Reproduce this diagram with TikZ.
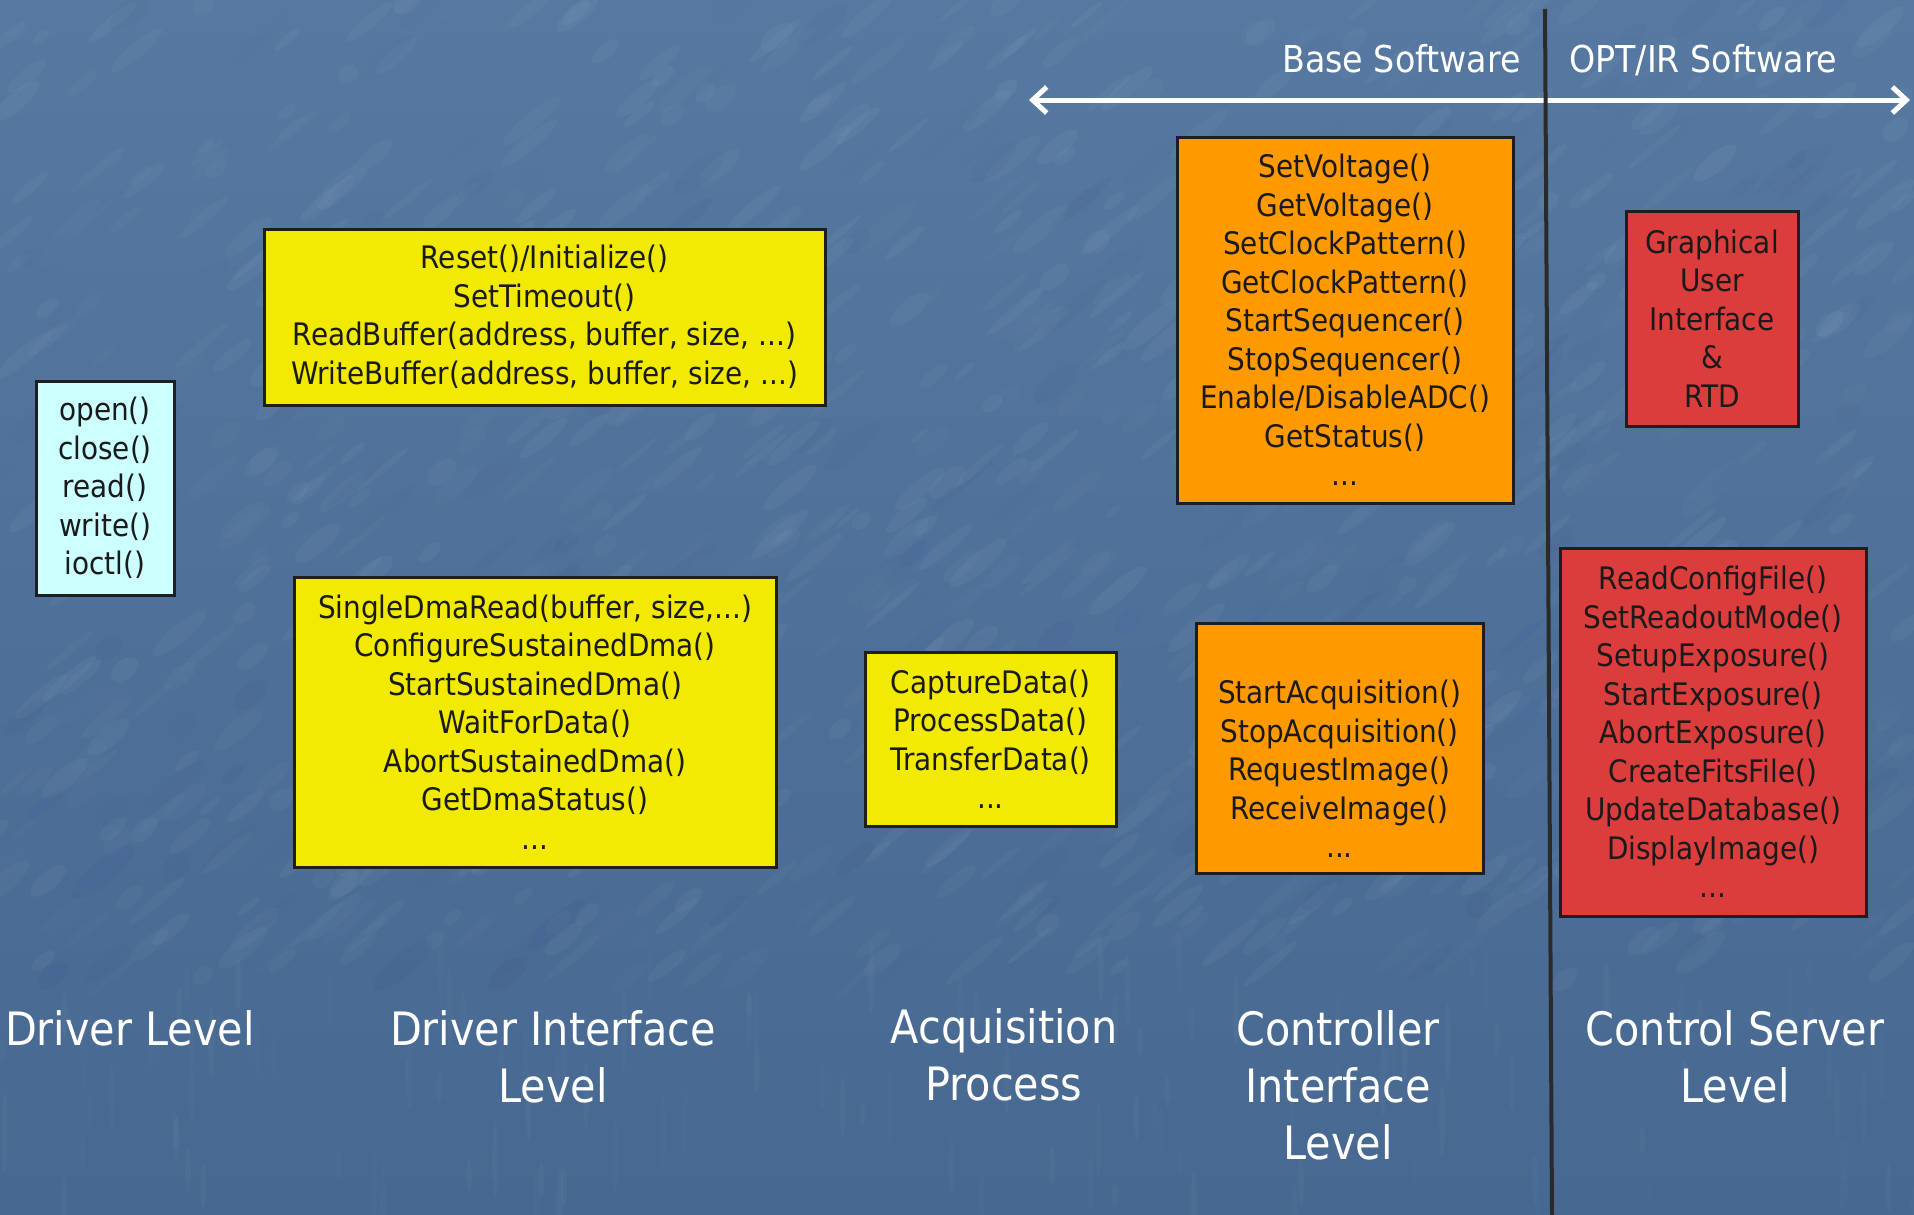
\documentclass[tikz,border=0pt]{standalone}
\usepackage{fontspec}
\newfontfamily\tah{DejaVu Sans}[FakeStretch=0.9]
\usetikzlibrary{arrows.meta}

\definecolor{bgtop}{HTML}{5779A1}
\definecolor{bgmid}{HTML}{56789F}
\definecolor{bgbot}{HTML}{476891}
\definecolor{boxline}{HTML}{1E1E1E}
\definecolor{inktext}{HTML}{1A1A1A}
\definecolor{drvcyan}{HTML}{CCFFFF}
\definecolor{ifyellow}{HTML}{F2EA00}
\definecolor{ctlorange}{HTML}{FF9900}
\definecolor{srvred}{HTML}{DB3D3D}
\definecolor{rulegray}{HTML}{2A2A2A}

\tikzset{
  fnbox/.style={draw=boxline, line width=3pt, align=center, inner sep=0pt,
    text=inktext, font=\tah\fontsize{31}{38.5}\selectfont},
  hdr/.style={text=white, inner sep=0pt, font=\tah\fontsize{37}{44}\selectfont},
  levellabel/.style={text=white, inner sep=0pt, align=center, anchor=base,
    font=\tah\fontsize{46}{57}\selectfont},
  spanarrow/.style={white, line width=5pt,
    {Straight Barb[length=14pt,width=26pt]}-{Straight Barb[length=14pt,width=26pt]}},
  divider/.style={rulegray, line width=4pt},
}

\begin{document}
\begin{tikzpicture}[x=1pt,y=-1pt]
\useasboundingbox (0,0) rectangle (1914,1215);

% textured blue backdrop
\shade[top color=bgtop, middle color=bgmid, bottom color=bgbot] (0,0) rectangle (1914,1215);
\pgfmathsetseed{4217}
\foreach \i in {1,...,900}{
  \pgfmathsetmacro\sx{rnd*1914}
  \pgfmathsetmacro\sy{rnd*980}
  \pgfmathsetmacro\sl{10+rnd*28}
  \pgfmathsetmacro\sw{3+rnd*7}
  \pgfmathsetmacro\so{0.012+rnd*0.03}
  \fill[white, opacity=\so, rotate around={40:(\sx,\sy)}] (\sx,\sy) ellipse (\sl pt and \sw pt);
}
\foreach \i in {1,...,200}{
  \pgfmathsetmacro\sx{rnd*1914}
  \pgfmathsetmacro\sy{rnd*980}
  \pgfmathsetmacro\sl{12+rnd*30}
  \pgfmathsetmacro\sw{4+rnd*8}
  \pgfmathsetmacro\so{0.008+rnd*0.018}
  \fill[black!60!blue, opacity=\so, rotate around={40:(\sx,\sy)}] (\sx,\sy) ellipse (\sl pt and \sw pt);
}
\foreach \i in {1,...,120}{
  \pgfmathsetmacro\sx{rnd*1914}
  \pgfmathsetmacro\sy{960+rnd*250}
  \pgfmathsetmacro\sl{10+rnd*30}
  \pgfmathsetmacro\so{0.012+rnd*0.02}
  \fill[white, opacity=\so] (\sx,\sy) ellipse (3pt and \sl pt);
}

% software span arrow and divider
\coordinate (spanL) at (1029,100);
\coordinate (spanR) at (1910,100);
\draw[spanarrow] (spanL) -- (spanR);
\coordinate (divTop) at (1545,9);
\coordinate (divBot) at (1552,1215);
\draw[divider] (divTop) -- (divBot);

\node[hdr, anchor=base east] (baseSW) at (1521,73) {Base Software};
\node[hdr, anchor=base west] (optSW) at (1569,73) {OPT/IR Software};

% function boxes
\node[fnbox, fill=drvcyan, minimum width=138pt, minimum height=214pt] (drv) at (105,488)
  {open()\\close()\\read()\\write()\\ioctl()};

\node[fnbox, fill=ifyellow, minimum width=561pt, minimum height=176pt] (dif1) at (544.5,317)
  {Reset()/Initialize()\\SetTimeout()\\ReadBuffer(address, buffer, size, ...)\\WriteBuffer(address, buffer, size, ...)};

\node[fnbox, fill=ifyellow, minimum width=482pt, minimum height=290pt] (dif2) at (535,722)
  {SingleDmaRead(buffer, size,...)\\ConfigureSustainedDma()\\StartSustainedDma()\\WaitForData()\\AbortSustainedDma()\\GetDmaStatus()\\...};

\node[fnbox, fill=ifyellow, minimum width=251pt, minimum height=174pt] (acq) at (990.5,739)
  {CaptureData()\\ProcessData()\\TransferData()\\...};

\node[fnbox, fill=ctlorange, minimum width=336pt, minimum height=366pt] (ctl1) at (1345,320)
  {SetVoltage()\\GetVoltage()\\SetClockPattern()\\GetClockPattern()\\StartSequencer()\\StopSequencer()\\Enable/DisableADC()\\GetStatus()\\...};

\node[fnbox, fill=ctlorange, minimum width=287pt, minimum height=250pt] (ctl2) at (1339.5,748)
  {\strut\\StartAcquisition()\\StopAcquisition()\\RequestImage()\\ReceiveImage()\\...};

\node[fnbox, fill=srvred, minimum width=172pt, minimum height=215pt] (gui) at (1712,318.5)
  {Graphical\\User\\Interface\\\&\\RTD};

\node[fnbox, fill=srvred, minimum width=306pt, minimum height=368pt] (srv) at (1713,732)
  {ReadConfigFile()\\SetReadoutMode()\\SetupExposure()\\StartExposure()\\AbortExposure()\\CreateFitsFile()\\UpdateDatabase()\\DisplayImage()\\...};

% level captions (anchored at the baseline of their last line)
\node[levellabel] (lvDrv) at (130,1045) {Driver Level};
\node[levellabel] (lvDif) at (553,1102) {Driver Interface\\Level};
\node[levellabel] (lvAcq) at (1004,1100) {Acquisition\\Process};
\node[levellabel] (lvCtl) at (1338,1159) {Controller\\Interface\\Level};
\node[levellabel] (lvSrv) at (1735,1102) {Control Server\\Level};
\end{tikzpicture}
\end{document}
